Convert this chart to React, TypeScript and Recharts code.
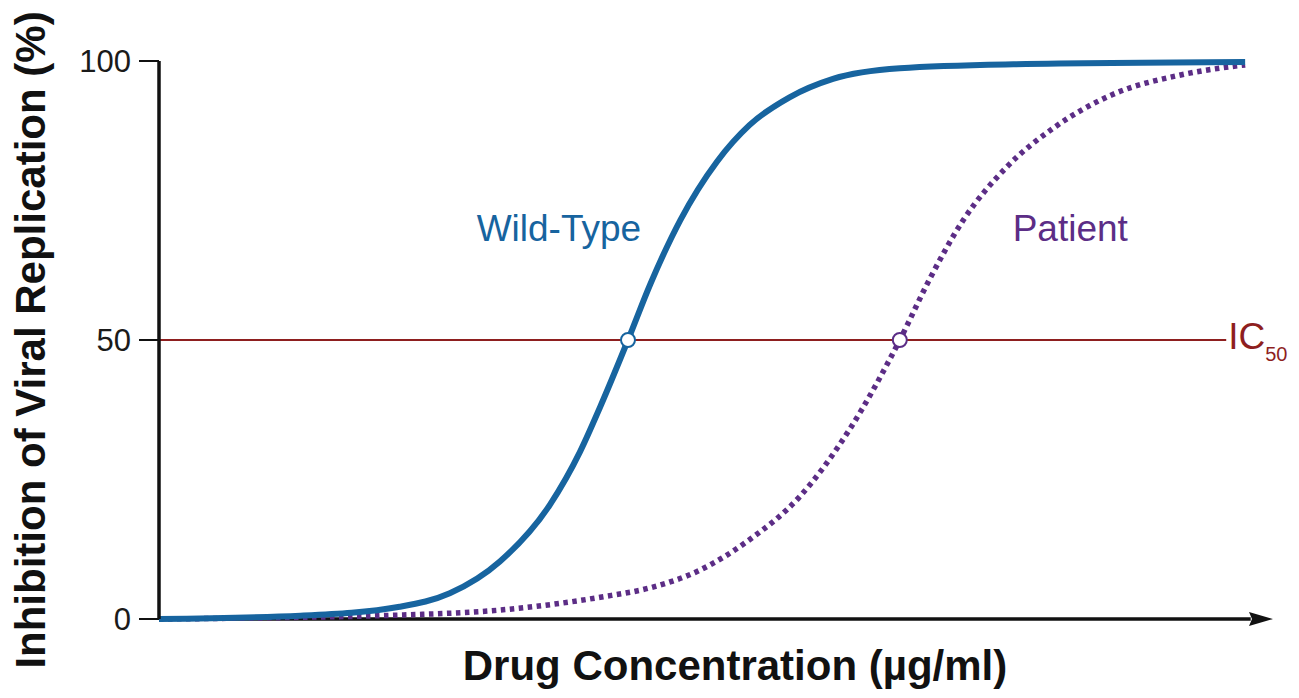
import React from 'react';
import { LineChart, Line, XAxis, YAxis, ReferenceLine, ReferenceDot } from 'recharts';

// Drug concentration (arbitrary log units) vs % inhibition
const wildTypeConc = [0, 1.27, 2.16, 2.61, 3.06, 3.51, 3.78, 3.96, 4.21, 4.41, 4.68, 5.01, 5.3, 5.66, 6.05, 6.65, 7.67, 9.75];
const wildTypeInhibition = [0, 0.6, 2.2, 4.6, 10.3, 20.5, 30, 38, 50, 60, 71.5, 82, 88.5, 93.5, 96.8, 98.7, 99.4, 99.8];

const patientConc = [0, 1.27, 2.16, 3.06, 3.96, 4.41, 4.86, 5.3, 5.75, 6.2, 6.65, 6.92, 7.22, 7.61, 8.03, 8.56, 9.17, 9.75];
const patientInhibition = [0, 0.3, 0.7, 1.6, 3.9, 5.6, 8.8, 14.2, 21.9, 34, 50, 61, 71.5, 81, 88, 94, 97.5, 99.3];

const yTicks = [0, 50, 100];
const ic50Level = 50;
const ic50LineEnd = 9.58;
const wildTypeIC50 = 4.21;
const patientIC50 = 6.65;
const xMax = 10;

const xTitle = 'Drug Concentration (µg/ml)';
const yTitle = 'Inhibition of Viral Replication (%)';
const wildTypeName = 'Wild-Type';
const patientName = 'Patient';

const FONT = '"Liberation Sans", Arial, Helvetica, sans-serif';
const BLUE = '#17649F';
const PURPLE = '#5C2D86';
const RED = '#8E1F1F';

const wildData = wildTypeConc.map((x, i) => ({ x, y: wildTypeInhibition[i] }));
const patientData = patientConc.map((x, i) => ({ x, y: patientInhibition[i] }));

export default function App() {
  return (
    <div style={{ width: 1283, height: 682 }}>
      <LineChart width={1283} height={682} margin={{ top: 53, right: 18, left: 0, bottom: 0 }}>
        <XAxis
          type="number"
          dataKey="x"
          domain={[0, xMax]}
          allowDataOverflow
          tick={false}
          tickLine={false}
          axisLine={false}
          height={71}
          label={{
            content: (p: any) => {
              const vb = p.viewBox || { x: 151, y: 611, width: 1114 };
              return (
                <text
                  x={vb.x + vb.width / 2 + 19}
                  y={vb.y + 61}
                  textAnchor="middle"
                  fontFamily={FONT}
                  fontWeight="bold"
                  fontSize={42}
                  fill="#111"
                >
                  {xTitle}
                </text>
              );
            },
          }}
        />
        <YAxis
          type="number"
          domain={[0, 100]}
          ticks={yTicks}
          width={151}
          tickSize={20}
          tickMargin={8}
          axisLine={{ stroke: '#111', strokeWidth: 3.5 }}
          tickLine={{ stroke: '#111', strokeWidth: 2 }}
          tick={{ fontSize: 31, fill: '#1a1a1a', fontFamily: FONT }}
          label={{
            content: (p: any) => {
              const vb = p.viewBox || { x: 0, y: 53, width: 151, height: 558 };
              const cx = 22;
              const cy = vb.y + vb.height / 2;
              return (
                <text
                  x={cx}
                  y={cy}
                  transform={`rotate(-90, ${cx}, ${cy})`}
                  textAnchor="middle"
                  dominantBaseline="central"
                  fontFamily={FONT}
                  fontWeight="bold"
                  fontSize={42}
                  fill="#111"
                >
                  {yTitle}
                </text>
              );
            },
          }}
        />
        <ReferenceLine
          segment={[{ x: 0, y: ic50Level }, { x: ic50LineEnd, y: ic50Level }]}
          stroke={RED}
          strokeWidth={2}
          ifOverflow="visible"
        />
        <ReferenceLine
          segment={[{ x: 0, y: 0 }, { x: 9.8, y: 0 }]}
          stroke="#111"
          strokeWidth={3.5}
          ifOverflow="visible"
        />
        <ReferenceDot
          x={xMax}
          y={0}
          ifOverflow="visible"
          shape={(p: any) => (
            <polygon
              points={`${p.cx - 24},${p.cy - 7} ${p.cx},${p.cy} ${p.cx - 24},${p.cy + 7} ${p.cx - 21},${p.cy}`}
              fill="#111"
            />
          )}
        />
        <Line
          data={patientData}
          dataKey="y"
          type="monotone"
          stroke={PURPLE}
          strokeWidth={5.5}
          strokeDasharray="4.5 4.5"
          dot={false}
          activeDot={false}
          isAnimationActive={false}
        />
        <Line
          data={wildData}
          dataKey="y"
          type="monotone"
          stroke={BLUE}
          strokeWidth={6}
          dot={false}
          activeDot={false}
          isAnimationActive={false}
        />
        <ReferenceDot x={wildTypeIC50} y={ic50Level} r={7} fill="#fff" stroke={BLUE} strokeWidth={2} ifOverflow="visible" />
        <ReferenceDot x={patientIC50} y={ic50Level} r={7} fill="#fff" stroke={PURPLE} strokeWidth={2} ifOverflow="visible" />
        <ReferenceDot
          x={3.59}
          y={70}
          ifOverflow="visible"
          shape={(p: any) => (
            <text x={p.cx} y={p.cy} textAnchor="middle" dominantBaseline="central" fontFamily={FONT} fontSize={37} fill={BLUE}>
              {wildTypeName}
            </text>
          )}
        />
        <ReferenceDot
          x={8.18}
          y={70}
          ifOverflow="visible"
          shape={(p: any) => (
            <text x={p.cx} y={p.cy} textAnchor="middle" dominantBaseline="central" fontFamily={FONT} fontSize={37} fill={PURPLE}>
              {patientName}
            </text>
          )}
        />
        <ReferenceDot
          x={ic50LineEnd}
          y={ic50Level}
          ifOverflow="visible"
          shape={(p: any) => (
            <text x={p.cx + 2} y={p.cy + 9} textAnchor="start" fontFamily={FONT} fill={RED}>
              <tspan fontSize={37}>IC</tspan>
              <tspan fontSize={20} dy={12}>50</tspan>
            </text>
          )}
        />
      </LineChart>
    </div>
  );
}
